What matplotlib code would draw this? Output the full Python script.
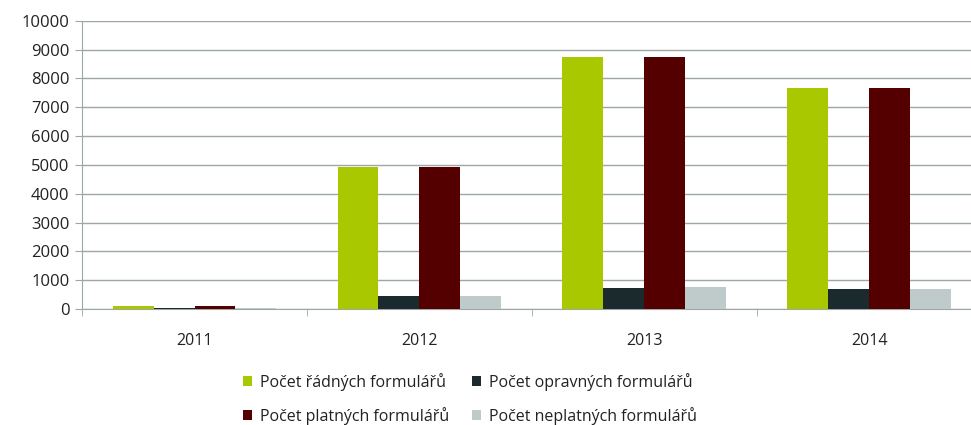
import numpy as np
import matplotlib.pyplot as plt
from matplotlib.ticker import FixedLocator

plt.rcParams['font.family'] = ['Open Sans', 'DejaVu Sans']

roky = ["2011", "2012", "2013", "2014"]
radne = [115, 4940, 8760, 7660]
opravne = [35, 460, 740, 700]
platne = [115, 4940, 8760, 7660]
neplatne = [30, 460, 775, 700]

serie = [
    ("Počet řádných formulářů", radne, "#aac800"),
    ("Počet opravných formulářů", opravne, "#1a2a2d"),
    ("Počet platných formulářů", platne, "#540000"),
    ("Počet neplatných formulářů", neplatne, "#bfcbca"),
]

fig = plt.figure(figsize=(9.71, 4.25), dpi=100)
ax = fig.add_axes([0.0845, 0.273, 0.9265, 0.678])

x = np.arange(len(roky))
sirka = 0.182
sloupce = []
for i, (nazev, hodnoty, barva) in enumerate(serie):
    b = ax.bar(x + (i - 1.5) * sirka, hodnoty, width=sirka, color=barva,
               label=nazev, zorder=3)
    sloupce.append(b)

ax.set_xlim(-0.5, len(roky) - 0.5)
ax.set_ylim(0, 10000)
ax.set_yticks(range(0, 10001, 1000))
ax.grid(axis='y', color='#9ea7a7', linewidth=1.0, zorder=0)

ax.set_xticks(x)
ax.set_xticklabels(roky)
ax.xaxis.set_minor_locator(FixedLocator(np.arange(-0.5, len(roky), 1)))
ax.tick_params(axis='x', which='major', length=0, pad=17, labelsize=11.5,
               labelcolor='#222222')
ax.tick_params(axis='x', which='minor', length=5, color='#9ea7a7')
ax.tick_params(axis='y', length=5, color='#9ea7a7', labelsize=12, pad=4,
               labelcolor='#222222')

for s in ['top', 'right']:
    ax.spines[s].set_visible(False)
for s in ['left', 'bottom']:
    ax.spines[s].set_color('#9ea7a7')

# legenda po radcich: radne, opravne / platne, neplatne
poradi = [0, 2, 1, 3]
ax.legend([sloupce[i] for i in poradi], [serie[i][0] for i in poradi],
          loc='upper center', bbox_to_anchor=((470.0 - 82) / 899.6, -0.172),
          ncol=2, frameon=False, fontsize=11.5, handlelength=0.6, handleheight=0.6,
          handletextpad=0.5, columnspacing=1.4, labelspacing=1.0,
          labelcolor='#222222')

fig.savefig("out.png", dpi=100)
